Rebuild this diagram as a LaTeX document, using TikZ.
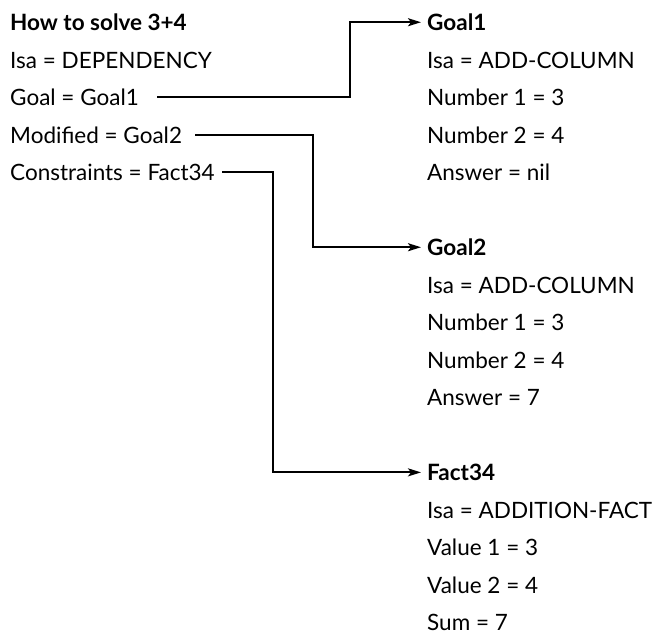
\documentclass[tikz,border=0pt]{standalone}
\usepackage{fontspec}
\setmainfont{Lato}
\usetikzlibrary{arrows.meta}
\begin{document}
\begin{tikzpicture}[x=1pt,y=-1pt,
  txt/.style={anchor=base west,inner sep=0pt,font=\fontsize{22.5}{26}\selectfont},
  hd/.style={anchor=base west,inner xsep=6pt,inner ysep=0pt,font=\fontsize{22.5}{26}\selectfont\bfseries},
  conn/.style={line width=1.9pt},
  arr/.style={conn,-{Stealth[length=13pt,width=8pt,inset=3pt]}}]
\useasboundingbox (0,0) rectangle (659,635);
% left record
\node[txt] (lhead) at (10,30.5) {\bfseries How to solve 3+4};
\node[txt] (lisa)  at (10,68) {Isa = DEPENDENCY};
\node[txt] (lgoal) at (10,105.5) {Goal = Goal1};
\node[txt] (lmod)  at (10,143) {Modified = Goal2};
\node[txt] (lcon)  at (10,180.5) {Constraints = Fact34};
% Goal1
\node[hd]  (g1)  at (421,30.5) {Goal1};
\node[txt] (g1a) at (427,68) {Isa = ADD-COLUMN};
\node[txt] (g1b) at (427,105.5) {Number 1 = 3};
\node[txt] (g1c) at (427,143) {Number 2 = 4};
\node[txt] (g1d) at (427,180.5) {Answer = nil};
% Goal2
\node[hd]  (g2)  at (421,255.5) {Goal2};
\node[txt] (g2a) at (427,293) {Isa = ADD-COLUMN};
\node[txt] (g2b) at (427,330.5) {Number 1 = 3};
\node[txt] (g2c) at (427,368) {Number 2 = 4};
\node[txt] (g2d) at (427,405.5) {Answer = 7};
% Fact34
\node[hd]  (f)  at (421,480.5) {Fact34};
\node[txt] (fa) at (427,518) {Isa = ADDITION-FACT};
\node[txt] (fb) at (427,555.5) {Value 1 = 3};
\node[txt] (fc) at (427,593) {Value 2 = 4};
\node[txt] (fd) at (427,630.5) {Sum = 7};
% connector x positions
\coordinate (s1) at (157,0);
\coordinate (v1) at (350,0);
\coordinate (s2) at (195,0);
\coordinate (v2) at (313,0);
\coordinate (s3) at (222,0);
\coordinate (v3) at (273,0);
\draw[arr] (lgoal.east -| s1) -| (g1.west -| v1) -- (g1.west);
\draw[arr] (lmod.east -| s2) -| (g2.west -| v2) -- (g2.west);
\draw[arr] (lcon.east -| s3) -| (f.west -| v3) -- (f.west);
\end{tikzpicture}
\end{document}
